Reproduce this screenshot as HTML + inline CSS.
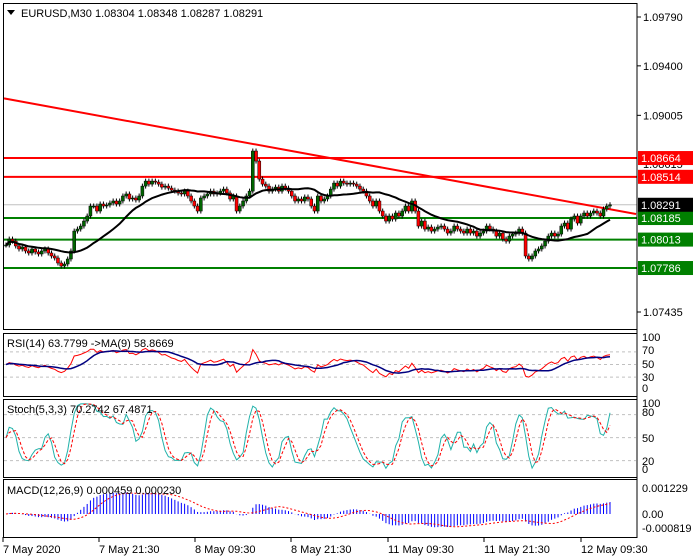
<!DOCTYPE html>
<html><head><meta charset="utf-8"><style>
html,body{margin:0;padding:0;background:#fff;width:700px;height:560px;overflow:hidden}
svg{display:block}
text{font-family:"Liberation Sans",sans-serif;font-size:11px;fill:#000}
</style></head><body>
<svg id="c" width="700" height="560"></svg>
<script>
const closes=[1.07970,1.08017,1.08001,1.07962,1.07938,
1.07954,1.07922,1.07906,1.07938,1.07914,1.07898,1.07922,1.07938,1.07906,1.07882,
1.07866,1.07826,1.07802,1.07818,1.07858,
1.07922,1.08081,1.08097,1.08121,1.08161,1.08201,
1.08281,1.08281,1.08241,1.08297,1.08281,1.08289,1.08305,1.08321,1.08297,1.08321,
1.08361,1.08377,1.08337,1.08345,1.08329,1.08361,1.08440,1.08480,1.08456,
1.08480,1.08472,1.08456,1.08432,1.08440,1.08424,1.08408,1.08400,1.08385,1.08377,1.08400,1.08361,1.08321,1.08281,1.08241,1.08345,
1.08361,1.08377,1.08400,1.08377,1.08385,1.08400,1.08416,1.08385,1.08337,1.08361,1.08241,1.08281,1.08321,1.08361,1.08400,
1.08720,1.08640,1.08496,1.08456,1.08440,1.08400,1.08416,1.08432,1.08400,1.08440,1.08424,
1.08400,1.08361,1.08321,1.08337,1.08321,1.08353,1.08337,1.08281,1.08241,1.08361,
1.08321,1.08337,1.08361,1.08416,1.08464,1.08440,1.08480,1.08464,1.08456,1.08464,1.08456,1.08440,
1.08416,1.08400,1.08361,1.08321,1.08281,1.08321,1.08241,1.08201,1.08161,1.08201,1.08177,1.08225,1.08201,1.08241,
1.08281,1.08241,1.08321,1.08241,1.08121,1.08161,1.08097,1.08113,1.08081,1.08097,1.08113,1.08121,1.08097,1.08065,
1.08081,1.08121,1.08097,1.08081,1.08065,1.08097,1.08065,1.08081,1.08041,1.08065,1.08081,
1.08121,1.08097,1.08081,1.08041,1.08065,1.08017,1.08001,1.08041,1.08057,1.08065,1.08097,1.08065,1.07882,1.07858,
1.07882,1.07922,1.07938,1.07962,1.08001,1.08041,1.08065,1.08041,1.08057,
1.08121,1.08145,1.08097,1.08177,1.08201,1.08145,1.08201,1.08225,1.08201,1.08225,1.08241,1.08225,1.08201,1.08257,1.08281,1.08291];
const priceTicks=[1.09790,1.09400,1.09005,1.07435];
const redLevels=[1.08664,1.08514];
const greenLevels=[1.08185,1.08013,1.07786];
const lastPrice=1.08291;
const trendPrices=[1.09140,1.08217];
const dateLabels=["7 May 2020","7 May 21:30","8 May 09:30","8 May 21:30","11 May 09:30","11 May 21:30","12 May 09:30"];

const svg=document.getElementById('c');
const NS='http://www.w3.org/2000/svg';
function el(t,a,p){const e=document.createElementNS(NS,t);for(const k in a)e.setAttribute(k,a[k]);(p||svg).appendChild(e);return e;}
const yP=p=>17+(1.0979-p)*12526;
const n=closes.length, x0=6, x1=610, step=(x1-x0)/(n-1);
const xI=i=>x0+i*step;

const panels=[[3,3,329],[3,333,396],[3,399,477],[3,479,537]];
panels.forEach((p,k)=>{const r=el('rect',{x:3.5,y:p[1]+.5,width:633.5,height:p[2]-p[1],fill:'none',stroke:'#000'});
});

priceTicks.forEach(v=>{const y=yP(v);el('line',{x1:637,x2:641,y1:y,y2:y,stroke:'#000'});
const t=el('text',{x:643,y:y+4});t.textContent=v.toFixed(5);
});
const hid=el('text',{x:643,y:yP(1.08615)+4});hid.textContent='1.08615';


el('line',{x1:4,x2:637,y1:yP(lastPrice),y2:yP(lastPrice),stroke:'#c0c0c0'});

function levelBox(v,col,name){const y=yP(v);
 const l=el('line',{x1:4,x2:637,y1:y,y2:y,stroke:col,'stroke-width':2});
 
 const r=el('rect',{x:638,y:y-7,width:55,height:14,fill:col});
 
 const t=el('text',{x:641,y:y+4});t.textContent=v.toFixed(5);t.style.fill='#fff';
 }
redLevels.forEach(v=>levelBox(v,'#ff0000','resistance'));
greenLevels.forEach(v=>levelBox(v,'#008000','support'));
{const y=yP(lastPrice);const r=el('rect',{x:638,y:y-7,width:55,height:14,fill:'#000'});

const t=el('text',{x:641,y:y+4});t.textContent=lastPrice.toFixed(5);t.style.fill='#fff';
}

{const tl=el('line',{x1:4,y1:yP(trendPrices[0]),x2:636,y2:yP(trendPrices[1]),stroke:'#ff0000','stroke-width':2});
}

const opens=closes.map((c,i)=>i?closes[i-1]:c);
const highs=closes.map((c,i)=>Math.max(c,opens[i])+0.0002);
const lows=closes.map((c,i)=>Math.min(c,opens[i])-0.0002);
for(let i=0;i<n;i++){const x=xI(i);
 const w=el('line',{x1:x,x2:x,y1:yP(highs[i]),y2:yP(lows[i]),stroke:'#000'});
 
 const up=closes[i]>=opens[i];const t=yP(Math.max(closes[i],opens[i])),b=yP(Math.min(closes[i],opens[i]));
 const r=el('rect',{x:x-1.5,y:t,width:3,height:Math.max(1,b-t),fill:up?'#006400':'#ff0000',stroke:'#000','stroke-width':0.5});
 }

function sma(a,p){return a.map((v,i)=>{if(v==null)return null;let s=0,c=0;for(let j=Math.max(0,i-p+1);j<=i;j++){if(a[j]!=null){s+=a[j];c++;}}return s/c;});}
function poly(vals,fy,attrs,name){const pts=[];vals.forEach((v,i)=>{if(v!=null&&!isNaN(v))pts.push(xI(i).toFixed(1)+','+fy(v).toFixed(1));});
 const p=el('polyline',Object.assign({points:pts.join(' '),fill:'none'},attrs));return p;}
poly(sma(closes,20),yP,{stroke:'#000','stroke-width':2},'moving-average-line');

const rsi=[];{let ag=0.0003,al=0.0003;for(let i=0;i<n;i++){if(i==0){rsi.push(50);continue;}const d=closes[i]-closes[i-1];const g=Math.max(d,0),l=Math.max(-d,0);
 const k=1/14;ag=ag*(1-k)+g*k;al=al*(1-k)+l*k;rsi.push(100-100/(1+ag/al));}}
const yR=v=>396-v*0.63;
[70,50,30].forEach(v=>el('line',{x1:4,x2:636,y1:yR(v),y2:yR(v),stroke:'#c0c0c0','stroke-dasharray':'3,3'}));
poly(rsi,yR,{stroke:'#ff0000'},'rsi-line');
poly(sma(rsi,9),yR,{stroke:'#000080','stroke-width':1.5},'rsi-ma-line');
[[100,341],[70,354],[50,368],[30,381],[0,392]].forEach(a=>{const t=el('text',{x:642,y:a[1]});t.textContent=a[0];});

const kraw=closes.map((c,i)=>{let hh=-1,ll=9;for(let j=Math.max(0,i-4);j<=i;j++){hh=Math.max(hh,highs[j]);ll=Math.min(ll,lows[j]);}return (c-ll)/(hh-ll)*100;});
const kS=sma(kraw,3),dS=sma(kS,3);
const yS=v=>476-v*0.767;
[80,50,20].forEach(v=>el('line',{x1:4,x2:636,y1:yS(v),y2:yS(v),stroke:'#c0c0c0','stroke-dasharray':'3,3'}));
poly(kS,yS,{stroke:'#20b2aa'},'stoch-main-line');
poly(dS,yS,{stroke:'#ff0000','stroke-dasharray':'3,2'},'stoch-signal-line');
[[100,407],[80,416],[50,442],[20,465],[0,473]].forEach(a=>{const t=el('text',{x:642,y:a[1]});t.textContent=a[0];});

function ema(a,p){const k=2/(p+1);let e=a[0];return a.map(v=>e=e+(v-e)*k);}
const e12=ema(closes,12),e26=ema(closes,26);
const macd=closes.map((c,i)=>e12[i]-e26[i]);
const sig=sma(macd,9);
const yM=v=>514-v*21155;
macd.forEach((v,i)=>{const b=el('line',{x1:xI(i),x2:xI(i),y1:yM(0),y2:yM(v),stroke:'#0000ff'});});
poly(sig,yM,{stroke:'#ff0000','stroke-dasharray':'2,2'},'macd-signal-line');
[['0.001229',492],['0.00',518],['-0.000819',532]].forEach(a=>{const t=el('text',{x:642,y:a[1]});t.textContent=a[0];});

[['RSI(14) 63.7799  ->MA(9) 58.8669',347,'rsi-title'],['Stoch(5,3,3) 70.2742 67.4871',413,'stoch-title'],['MACD(12,26,9) 0.000459 0.000230',494,'macd-title']].forEach(a=>{
 const t=el('text',{x:7,y:a[1]});t.textContent=a[0];});

{const tri=el('polygon',{points:'7,10 15,10 11,15',fill:'#000'});
const t=el('text',{x:21,y:17});t.textContent='EURUSD,M30  1.08304 1.08348 1.08287 1.08291';}

const dateX=[3,99,195,291,388,484,581];
dateLabels.forEach((d,i)=>{el('line',{x1:dateX[i],x2:dateX[i],y1:537,y2:542,stroke:'#000'});
 const t=el('text',{x:dateX[i],y:553});t.textContent=d;});
el('line',{x1:637,x2:637,y1:3,y2:537,stroke:'#000'});
</script>
</body></html>
